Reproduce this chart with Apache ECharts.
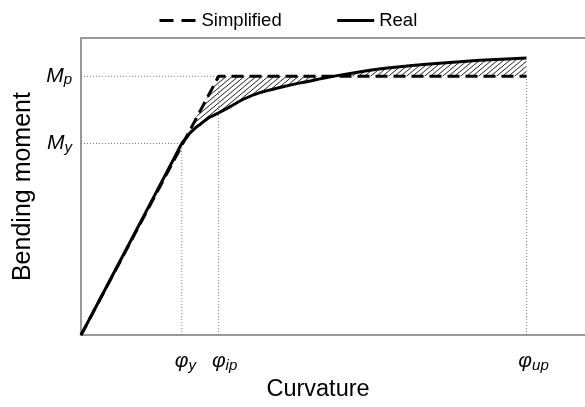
<!DOCTYPE html>
<html><head><meta charset="utf-8">
<script src="https://cdn.jsdelivr.net/npm/echarts@6/dist/echarts.min.js"></script>
<style>html,body{margin:0;padding:0;background:#fff}#c{width:585px;height:407px}</style>
</head><body><div id="c"></div>
<script>
// Key values (arbitrary units, x: 0..100, y: 0..100)
const phiY = 20.0, phiIp = 27.3, phiUp = 88.4;
const My = 64.5, Mp = 87.1;
const xTickValues = [phiY, phiIp, phiUp];
const yTickValues = [My, Mp];
// Simplified (bilinear) curve
const simplified = [[0, 0], [phiIp, Mp], [phiUp, Mp]];
// Real curve
const real = [
  [0, 0], [10, 32.2], [18, 58.0], [phiY, My], [20.8, 66.2], [21.6, 67.9], [22.6, 69.6],
  [23.6, 70.9], [24.6, 72.2], [25.6, 73.4], [27.4, 74.9], [29.6, 76.9], [32.1, 79.3],
  [35.5, 81.6], [40.1, 83.6], [43.5, 84.9], [46.8, 86.0], [51.4, 87.5],
  [56.7, 89.0], [63.3, 90.3], [69.8, 91.3], [79.2, 92.5], [phiUp, 93.3]
];
// Dotted guide lines
const guides = [
  [[0, My], [phiY, My]],
  [[phiY, 0], [phiY, My]],
  [[0, Mp], [phiIp, Mp]],
  [[phiIp, 0], [phiIp, Mp]],
  [[phiUp, 0], [phiUp, Mp]]
];

// Hatched region between curves (from phiY to phiUp)
const hatchPoly = [[phiY, My]]
  .concat(simplified.filter(p => p[0] > phiY))
  .concat(real.filter(p => p[0] > phiY).slice().reverse());

function makeHatch() {
  const c = document.createElement('canvas');
  c.width = 6; c.height = 5;
  const g = c.getContext('2d');
  g.strokeStyle = '#222';
  g.lineWidth = 1;
  for (let k = -1; k <= 1; k++) {
    g.beginPath();
    g.moveTo(-1.2, 6 + 5 * k);
    g.lineTo(7.2, -1 + 5 * k);
    g.stroke();
  }
  return c;
}
const hatchPattern = { image: makeHatch(), repeat: 'repeat' };

const FONT = '"Liberation Sans", Arial, sans-serif';
const chart = echarts.init(document.getElementById('c'), null, { renderer: 'canvas' });

const guideSeries = guides.map(g => ({
  type: 'line', data: g, symbol: 'none', silent: true, z: 1,
  lineStyle: { color: '#777', width: 1, type: [1, 2] }
}));

chart.setOption({
  animation: false,
  backgroundColor: '#fff',
  grid: { left: 81, right: 0, top: 38, bottom: 70 },
  legend: {
    data: [
      { name: 'Simplified', lineStyle: { type: [14, 8], width: 3 } },
      { name: 'Real', lineStyle: { width: 3 } }
    ],
    left: 153, top: 6,
    itemWidth: 37, itemHeight: 14, itemGap: 54,
    itemStyle: { opacity: 0 },
    textStyle: { fontFamily: FONT, fontSize: 18.5, color: '#000' }
  },
  xAxis: [{
    type: 'value', min: 0, max: 100, position: 'bottom',
    axisLine: { onZero: false, lineStyle: { color: '#999', width: 2 } },
    axisTick: { show: false },
    splitLine: { show: false },
    name: 'Curvature', nameLocation: 'middle', nameGap: 42,
    nameTextStyle: { fontFamily: FONT, fontSize: 23.5, color: '#000', padding: [0, 30, 0, 0] },
    axisLabel: {
      customValues: xTickValues, margin: 15,
      formatter: function (v) {
        if (v === phiY) return '{p1|φ}{s|y}';
        if (v === phiIp) return '{p2|φ}{s|ip}';
        return '{p3|φ}{s|up}';
      },
      rich: {
        p1: { fontFamily: FONT, fontStyle: 'italic', fontSize: 21, color: '#000', padding: [0, 0, 0, 7] },
        p2: { fontFamily: FONT, fontStyle: 'italic', fontSize: 21, color: '#000', padding: [0, 0, 0, 12] },
        p3: { fontFamily: FONT, fontStyle: 'italic', fontSize: 21, color: '#000', padding: [0, 0, 0, 14] },
        s: { fontFamily: FONT, fontStyle: 'italic', fontSize: 15, color: '#000', padding: [8, 0, 0, 0] }
      }
    }
  }, {
    type: 'value', min: 0, max: 100, position: 'top',
    axisLine: { onZero: false, lineStyle: { color: '#999', width: 2 } },
    axisTick: { show: false }, axisLabel: { show: false }, splitLine: { show: false }
  }],
  yAxis: {
    type: 'value', min: 0, max: 100,
    axisLine: { show: true, onZero: false, lineStyle: { color: '#999', width: 2 } },
    axisTick: { show: false },
    splitLine: { show: false },
    name: 'Bending moment', nameLocation: 'middle', nameGap: 42,
    nameTextStyle: { fontFamily: FONT, fontSize: 25, color: '#000' },
    axisLabel: {
      customValues: yTickValues, margin: 9,
      formatter: function (v) { return v === My ? '{m|M}{s|y}' : '{m|M}{s|p}'; },
      rich: {
        m: { fontFamily: FONT, fontStyle: 'italic', fontSize: 21, color: '#000' },
        s: { fontFamily: FONT, fontStyle: 'italic', fontSize: 15, color: '#000', padding: [8, 0, 0, 0] }
      }
    }
  },
  series: [
    {
      type: 'custom', name: 'hatch', silent: true, z: 0,
      data: [[0, 0]],
      renderItem: function (params, api) {
        const pts = hatchPoly.map(p => api.coord(p));
        return { type: 'polygon', shape: { points: pts }, style: { fill: hatchPattern, stroke: null } };
      }
    }
  ].concat(guideSeries).concat([
    {
      name: 'Simplified', type: 'line', data: simplified, symbol: 'none', z: 3,
      lineStyle: { color: '#000', width: 3, type: [12, 6] },
      itemStyle: { color: '#000' }
    },
    {
      name: 'Real', type: 'line', data: real, symbol: 'none', z: 4,
      smooth: 0.25,
      lineStyle: { color: '#000', width: 3 },
      itemStyle: { color: '#000' }
    }
  ])
});
</script>
</body></html>
